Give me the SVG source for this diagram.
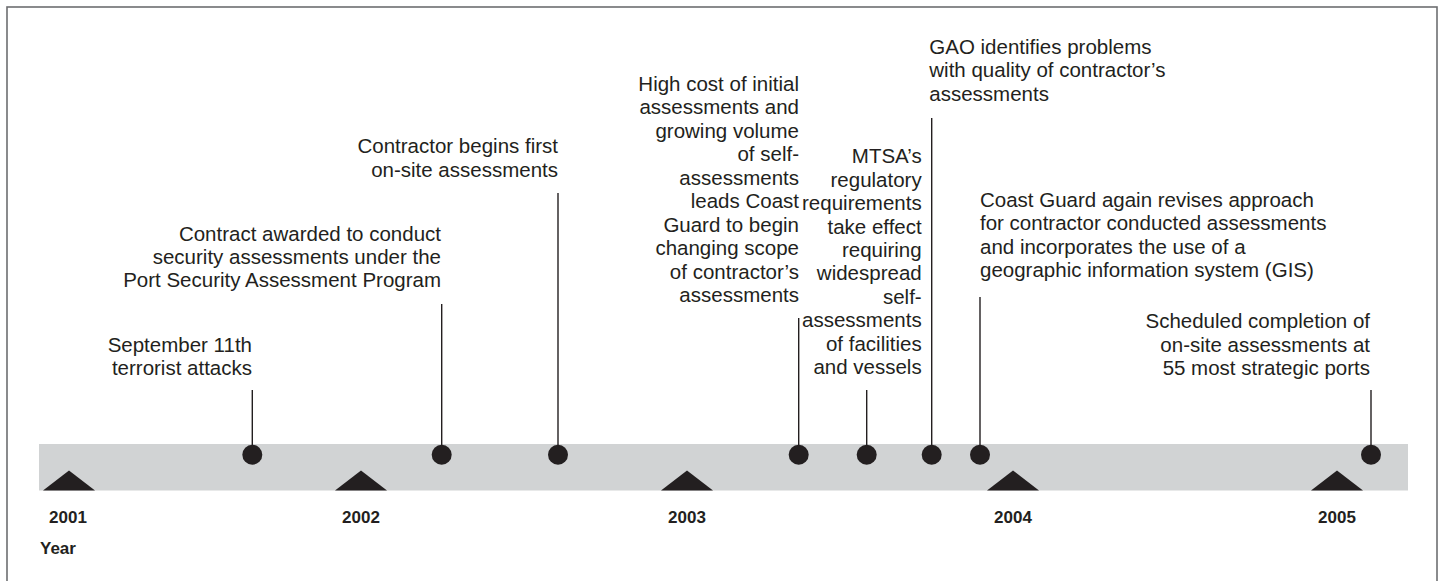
<svg xmlns="http://www.w3.org/2000/svg" width="1442" height="581" viewBox="0 0 1442 581">
<style>
.lbl{font-family:"Liberation Sans",Arial,Helvetica,sans-serif;font-size:20.5px;fill:#231f20}
.r{text-anchor:end}
.yr{font-family:"Liberation Sans",Arial,Helvetica,sans-serif;font-size:17px;font-weight:bold;fill:#231f20;text-anchor:middle}
.stem{stroke:#231f20;stroke-width:1.4;fill:none}
.dot{fill:#231f20}
.tri{fill:#231f20}
</style>
<rect x="7" y="7" width="1430" height="620" fill="#ffffff" stroke="#6d6e71" stroke-width="1.6"/>
<g id="axis">
<rect x="39" y="444" width="1369" height="46.5" fill="#d1d3d4"/>
<polygon class="tri" points="43,490.5 69,470.5 95,490.5"/>
<polygon class="tri" points="335,490.5 361,470.5 387,490.5"/>
<polygon class="tri" points="661,490.5 687,470.5 713,490.5"/>
<polygon class="tri" points="987,490.5 1013,470.5 1039,490.5"/>
<polygon class="tri" points="1311,490.5 1337,470.5 1363,490.5"/>
<text class="yr" x="68" y="522.5">2001</text>
<text class="yr" x="361" y="522.5">2002</text>
<text class="yr" x="687" y="522.5">2003</text>
<text class="yr" x="1013" y="522.5">2004</text>
<text class="yr" x="1337" y="522.5">2005</text>
<text class="yr" x="40" y="554" style="text-anchor:start">Year</text>
</g>
<g id="connectors">
<line class="stem" x1="252.3" y1="390" x2="252.3" y2="455"/>
<line class="stem" x1="441.7" y1="304" x2="441.7" y2="455"/>
<line class="stem" x1="558" y1="193" x2="558" y2="455"/>
<line class="stem" x1="798.7" y1="318" x2="798.7" y2="455"/>
<line class="stem" x1="866.7" y1="390" x2="866.7" y2="455"/>
<line class="stem" x1="931.7" y1="118" x2="931.7" y2="455"/>
<line class="stem" x1="980" y1="297" x2="980" y2="455"/>
<line class="stem" x1="1371" y1="390" x2="1371" y2="455"/>
</g>
<g id="ev-sept11">
<circle class="dot" cx="252.3" cy="454.7" r="10"/>
<text class="lbl r" x="252"><tspan x="252" y="351.7">September 11th</tspan><tspan x="252" y="375">terrorist attacks</tspan></text>
</g>
<g id="ev-contract">
<circle class="dot" cx="441.7" cy="454.7" r="10"/>
<text class="lbl r"><tspan x="441" y="240.7">Contract awarded to conduct</tspan><tspan x="441" y="264">security assessments under the</tspan><tspan x="441" y="287.4">Port Security Assessment Program</tspan></text>
</g>
<g id="ev-onsite">
<circle class="dot" cx="558" cy="454.7" r="10"/>
<text class="lbl r"><tspan x="558" y="153.3">Contractor begins first</tspan><tspan x="558" y="176.7">on-site assessments</tspan></text>
</g>
<g id="ev-highcost">
<circle class="dot" cx="798.7" cy="454.7" r="10"/>
<text class="lbl r"><tspan x="799" y="90.7">High cost of initial</tspan><tspan x="799" y="114.2">assessments and</tspan><tspan x="799" y="137.7">growing volume</tspan><tspan x="799" y="161.2">of self-</tspan><tspan x="799" y="184.7">assessments</tspan><tspan x="799" y="208.2">leads Coast</tspan><tspan x="799" y="231.7">Guard to begin</tspan><tspan x="799" y="255.2">changing scope</tspan><tspan x="799" y="278.7">of contractor’s</tspan><tspan x="799" y="302.2">assessments</tspan></text>
</g>
<g id="ev-mtsa">
<circle class="dot" cx="866.7" cy="454.7" r="10"/>
<text class="lbl r"><tspan x="921.7" y="163.3">MTSA’s</tspan><tspan x="921.7" y="186.7">regulatory</tspan><tspan x="921.7" y="210.1">requirements</tspan><tspan x="921.7" y="233.5">take effect</tspan><tspan x="921.7" y="256.9">requiring</tspan><tspan x="921.7" y="280.3">widespread</tspan><tspan x="921.7" y="303.7">self-</tspan><tspan x="921.7" y="327.1">assessments</tspan><tspan x="921.7" y="350.5">of facilities</tspan><tspan x="921.7" y="374">and vessels</tspan></text>
</g>
<g id="ev-gao">
<circle class="dot" cx="931.7" cy="454.7" r="10"/>
<text class="lbl"><tspan x="929.3" y="53.5">GAO identifies problems</tspan><tspan x="929.3" y="77">with quality of contractor’s</tspan><tspan x="929.3" y="100.5">assessments</tspan></text>
</g>
<g id="ev-gis">
<circle class="dot" cx="980" cy="454.7" r="10"/>
<text class="lbl"><tspan x="980" y="206.7">Coast Guard again revises approach</tspan><tspan x="980" y="230.2">for contractor conducted assessments</tspan><tspan x="980" y="253.7">and incorporates the use of a</tspan><tspan x="980" y="277.2">geographic information system (GIS)</tspan></text>
</g>
<g id="ev-scheduled">
<circle class="dot" cx="1371" cy="454.7" r="10"/>
<text class="lbl r"><tspan x="1370" y="328.3">Scheduled completion of</tspan><tspan x="1370" y="351.7">on-site assessments at</tspan><tspan x="1370" y="375">55 most strategic ports</tspan></text>
</g>
</svg>
